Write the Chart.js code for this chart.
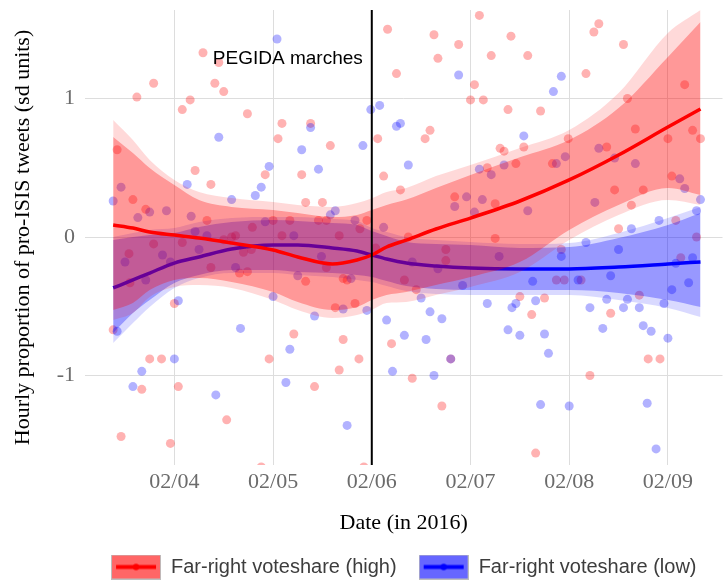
<!DOCTYPE html>
<html>
<head>
<meta charset="utf-8">
<script src="https://cdn.jsdelivr.net/npm/chart.js@4.4.1/dist/chart.umd.min.js"></script>
<style>
  html, body { margin: 0; padding: 0; background: #fff; }
  canvas { display: block; }
</style>
</head>
<body>
<canvas id="pro-isis-chart" width="727" height="584"></canvas>
<script>
// Axis ticks (x in days since 02/03 00:00)
const tickDays = [1, 2, 3, 4, 5, 6];
const tickLabels = ["02/04", "02/05", "02/06", "02/07", "02/08", "02/09"];
const yTicks = [-1, 0, 1];
const xRange = [0.0946, 6.553];
const yRange = [-1.646, 1.639];

const seriesLabels = ["Far-right voteshare (high)", "Far-right voteshare (low)"];
const eventDay = 3;
const eventLabel = "PEGIDA marches";
const eventLabelY = 1.29;

// Hourly observations [day, value]
const redPoints = [
  [1.29, 1.33], [1.45, 1.26], [0.79, 1.11], [0.62, 1.01], [1.41, 1.11], [1.50, 1.05], [1.08, 0.92], [1.16, 0.99],
  [1.74, 0.89], [2.09, 0.82], [2.05, 0.71], [2.38, 0.82], [2.58, 0.66], [0.42, 0.63], [1.21, 0.48], [1.37, 0.38],
  [1.92, 0.45], [2.29, 0.45], [2.33, 0.25], [2.50, 0.25], [0.58, 0.27], [0.71, 0.20], [1.33, 0.12], [2.00, 0.12],
  [2.17, 0.12], [2.46, 0.12], [2.54, 0.12], [2.95, 0.12], [1.58, 0.00], [1.62, 0.01], [0.54, -0.12], [1.66, -0.26],
  [2.75, -0.31], [3.06, 0.71], [1.78, -0.09], [3.12, 0.44], [3.04, -0.08],
  [0.38, -0.67], [1.00, -0.48], [2.21, -0.70], [2.71, -0.74], [2.63, -0.51], [2.83, -0.48], [0.75, -0.88], [0.87, -0.88],
  [1.96, -0.88], [2.87, -0.88], [2.67, -0.96], [0.67, -1.10], [1.04, -1.08], [2.42, -1.08], [1.53, -1.32], [0.46, -1.44],
  [0.96, -1.49], [1.88, -1.66], [2.92, -1.66],
  [3.16, 1.50], [4.09, 1.60], [3.63, 1.46], [3.88, 1.39], [4.41, 1.45], [3.67, 1.29], [3.25, 1.18], [4.21, 1.31],
  [4.58, 1.31], [4.04, 1.10], [4.00, 0.99], [4.13, 0.99], [4.38, 0.92], [4.71, 0.91], [5.25, 1.48], [5.30, 1.54],
  [5.55, 1.39], [5.17, 1.18], [5.59, 1.00], [6.17, 1.10], [3.54, 0.71], [3.59, 0.77], [3.29, 0.34], [4.30, 0.64],
  [4.34, 0.62], [4.54, 0.65], [4.46, 0.53], [4.99, 0.71], [4.83, 0.53], [5.38, 0.65], [5.67, 0.78], [6.00, 0.71],
  [6.25, 0.77], [6.33, 0.71], [6.04, 0.44], [5.46, 0.34], [5.75, 0.34], [3.84, 0.29], [4.25, 0.24], [5.63, 0.23],
  [5.50, 0.06], [6.08, 0.12], [6.29, 0.00], [3.75, -0.09], [4.92, -0.09], [6.13, -0.15], [3.33, -0.31], [4.87, -0.31],
  [4.95, -0.31], [5.12, -0.31], [3.45, -0.38], [5.71, -0.42], [4.50, -0.43], [4.75, -0.44], [3.37, 0.00], [4.17, 0.50],
  [3.20, -0.77], [3.41, -1.02], [3.71, -1.22], [4.62, -0.56], [4.66, -1.56], [5.42, -0.55], [5.80, -0.88], [5.92, -0.88],
  [5.21, -1.00],
  [1.79, 0.07], [2.09, 0.01], [2.67, 0.01], [2.88, 0.06], [0.79, -0.05], [1.08, -0.04], [1.37, -0.22], [1.70, -0.11],
  [2.33, -0.32], [2.54, -0.22], [2.71, -0.30], [0.55, -0.33], [1.50, -0.02], [1.74, -0.25], [4.25, -0.01], [3.75, -0.17],
  [3.80, -0.88]
];

const bluePoints = [
  [2.04, 1.43], [1.45, 0.72], [2.38, 0.79], [2.29, 0.63], [2.46, 0.49], [1.96, 0.51], [1.88, 0.36], [1.82, 0.30],
  [1.13, 0.38], [1.58, 0.27], [2.63, 0.19], [2.58, 0.16], [2.91, 0.66], [2.99, 0.92], [0.38, 0.26],
  [1.04, -0.46], [2.00, -0.43], [2.42, -0.57], [2.71, -0.52], [2.95, -0.53], [1.67, -0.66], [2.17, -0.81], [1.00, -0.88],
  [0.67, -0.97], [0.58, -1.08], [2.13, -1.05], [1.42, -1.14], [2.75, -1.36], [0.42, -0.68], [3.15, -0.60],
  [3.88, 1.17], [4.84, 1.05], [4.92, 1.16], [3.08, 0.95], [3.25, 0.80], [3.29, 0.82], [3.37, 0.52], [4.54, 0.73],
  [4.09, 0.49], [4.34, 0.52], [5.46, 0.57], [5.91, 0.12], [5.63, 0.06], [5.17, -0.04], [6.33, 0.27], [6.29, 0.19],
  [3.92, -0.35], [4.63, -0.32], [5.09, -0.31], [5.42, -0.28], [6.04, -0.38], [6.21, -0.33], [6.25, -0.15], [6.08, -0.19],
  [5.50, -0.09], [4.92, -0.14], [4.29, -0.14], [3.50, -0.44],
  [3.59, -0.54], [3.71, -0.59], [3.33, -0.71], [3.55, -0.74], [3.21, -0.97], [3.63, -1.00], [4.17, -0.48], [4.42, -0.51],
  [4.46, -0.48], [4.38, -0.67], [4.50, -0.71], [4.66, -0.46], [4.75, -0.70], [4.79, -0.84], [4.71, -1.21], [5.00, -1.22],
  [5.21, -0.51], [5.38, -0.45], [5.34, -0.66], [5.55, -0.51], [5.59, -0.45], [5.71, -0.51], [5.75, -0.64], [5.83, -0.68],
  [5.96, -0.48], [6.00, -0.73], [5.79, -1.20], [5.88, -1.53],
  [0.46, 0.36], [0.63, 0.14], [0.75, 0.18], [0.92, 0.19], [1.17, 0.15], [1.21, 0.04], [1.92, 0.11], [2.21, 0.01],
  [2.83, 0.12], [0.50, -0.18], [0.88, -0.13], [1.25, -0.09], [1.62, -0.22], [2.25, -0.28], [2.49, -0.14], [2.79, -0.30],
  [0.71, -0.31], [0.96, -0.18], [1.33, 0.01], [3.12, 0.07], [3.84, 0.22], [3.96, 0.29], [4.12, 0.27], [4.04, 0.18],
  [4.21, 0.45], [4.87, 0.53], [4.96, 0.58], [5.30, 0.64], [5.67, 0.53], [5.26, 0.25], [4.58, 0.19], [6.12, 0.42],
  [6.17, 0.35], [3.67, -0.23], [3.41, -0.18], [3.80, -0.88]
];

// Smoothed fits and confidence bands
const fitDays = [0.38, 0.58, 0.75, 1.0, 1.25, 1.58, 2.0, 2.25, 2.6, 2.85, 3.0, 3.15, 3.35, 3.65, 4.0, 4.5, 5.0, 5.5, 6.0, 6.33];
const redFit = [0.087, 0.065, 0.036, 0.014, -0.007, -0.043, -0.094, -0.144, -0.195, -0.166, -0.130, -0.072, -0.022, 0.058, 0.137, 0.260, 0.412, 0.592, 0.794, 0.924];
const redInnerLo = [-0.527, -0.477, -0.383, -0.310, -0.296, -0.325, -0.397, -0.469, -0.527, -0.505, -0.455, -0.419, -0.397, -0.347, -0.289, -0.181, 0.051, 0.231, 0.354, 0.303];
const redInnerHi = [0.722, 0.606, 0.498, 0.375, 0.267, 0.217, 0.195, 0.173, 0.144, 0.159, 0.195, 0.231, 0.270, 0.354, 0.448, 0.575, 0.700, 0.931, 1.300, 1.552];
const redOuterLo = [-0.599, -0.549, -0.433, -0.361, -0.347, -0.368, -0.455, -0.527, -0.585, -0.563, -0.527, -0.477, -0.469, -0.419, -0.361, -0.253, -0.022, 0.159, 0.267, 0.231];
const redOuterHi = [0.845, 0.700, 0.556, 0.412, 0.325, 0.282, 0.253, 0.231, 0.217, 0.245, 0.280, 0.325, 0.354, 0.440, 0.520, 0.643, 0.773, 1.040, 1.473, 1.639];
const blueFit = [-0.368, -0.310, -0.260, -0.188, -0.144, -0.087, -0.058, -0.058, -0.079, -0.101, -0.130, -0.159, -0.188, -0.209, -0.224, -0.231, -0.231, -0.217, -0.195, -0.180];
const blueInnerLo = [-0.693, -0.549, -0.455, -0.332, -0.274, -0.238, -0.238, -0.253, -0.260, -0.274, -0.289, -0.318, -0.354, -0.375, -0.383, -0.383, -0.383, -0.404, -0.455, -0.505];
const blueInnerHi = [-0.022, 0.000, 0.014, 0.029, 0.072, 0.108, 0.123, 0.116, 0.101, 0.087, 0.043, 0.007, -0.036, -0.051, -0.058, -0.079, -0.072, -0.007, 0.087, 0.173];
const blueOuterLo = [-0.765, -0.621, -0.505, -0.368, -0.296, -0.260, -0.260, -0.274, -0.289, -0.310, -0.325, -0.354, -0.390, -0.412, -0.419, -0.419, -0.419, -0.455, -0.513, -0.578];
const blueOuterHi = [0.000, 0.029, 0.051, 0.065, 0.108, 0.137, 0.144, 0.144, 0.130, 0.116, 0.065, 0.036, 0.000, -0.022, -0.036, -0.051, -0.043, 0.029, 0.137, 0.217];

function curve(ys) {
  return fitDays.map((x, i) => ({ x: x, y: ys[i] }));
}

function scatter(list) {
  return list.map((p) => ({ x: p[0], y: p[1] }));
}

function bandEdge(ys, color, order, target) {
  return {
    data: curve(ys),
    borderWidth: 0,
    pointRadius: 0,
    backgroundColor: color,
    fill: target === undefined ? false : target,
    cubicInterpolationMode: "monotone",
    order: order,
  };
}

function fitLine(ys, color, order) {
  return {
    data: curve(ys),
    borderColor: color,
    borderWidth: 3.5,
    pointRadius: 0,
    fill: false,
    cubicInterpolationMode: "monotone",
    order: order,
  };
}

// Legend keys: shaded box with line and dot, like ggplot keys
function legendKey(fill, line) {
  const c = document.createElement("canvas");
  c.width = 50;
  c.height = 25;
  const k = c.getContext("2d");
  k.fillStyle = fill;
  k.fillRect(0, 0, 50, 25);
  k.strokeStyle = "#bdbdbd";
  k.lineWidth = 1;
  k.strokeRect(0.5, 0.5, 49, 24);
  k.strokeStyle = line;
  k.lineWidth = 4;
  k.beginPath();
  k.moveTo(5, 12.5);
  k.lineTo(45, 12.5);
  k.stroke();
  k.fillStyle = line;
  k.beginPath();
  k.arc(25, 12.5, 3.2, 0, Math.PI * 2);
  k.fill();
  return c;
}
const legendKeys = [legendKey("rgba(255,0,0,0.6)", "#ff0000"), legendKey("rgba(0,0,255,0.6)", "#0000ff")];

const eventLabelPlugin = {
  id: "eventLabel",
  afterDatasetsDraw(chart) {
    const c = chart.ctx;
    const x = chart.scales.x.getPixelForValue(eventDay) - 9;
    const y = chart.scales.y.getPixelForValue(eventLabelY);
    c.save();
    c.font = "19px 'Liberation Sans', Arial, sans-serif";
    c.fillStyle = "#000";
    c.textAlign = "right";
    c.textBaseline = "middle";
    c.fillText(eventLabel, x, y);
    c.restore();
  },
};

const ctx = document.getElementById("pro-isis-chart").getContext("2d");

new Chart(ctx, {
  type: "line",
  data: {
    datasets: [
      // 0, 1: observations
      { data: scatter(redPoints), showLine: false, pointRadius: 4.5, pointBorderWidth: 0, pointBackgroundColor: "rgba(255,0,0,0.3)", clip: 0, order: 20 },
      { data: scatter(bluePoints), showLine: false, pointRadius: 4.5, pointBorderWidth: 0, pointBackgroundColor: "rgba(0,0,255,0.3)", clip: 0, order: 19 },
      // 2-5: blue bands
      bandEdge(blueOuterHi, "rgba(0,0,255,0.15)", 18, 3),
      bandEdge(blueOuterLo, "transparent", 17),
      bandEdge(blueInnerHi, "rgba(0,0,255,0.30)", 16, 5),
      bandEdge(blueInnerLo, "transparent", 15),
      // 6: blue fit
      fitLine(blueFit, "#0000ff", 14),
      // 7-10: red bands
      bandEdge(redOuterHi, "rgba(255,0,0,0.15)", 13, 8),
      bandEdge(redOuterLo, "transparent", 12),
      bandEdge(redInnerHi, "rgba(255,0,0,0.30)", 11, 10),
      bandEdge(redInnerLo, "transparent", 10),
      // 11: red fit
      fitLine(redFit, "#ff0000", 9),
      // 12: event marker
      {
        data: [{ x: eventDay, y: yRange[0] }, { x: eventDay, y: yRange[1] }],
        borderColor: "#000",
        borderWidth: 2,
        pointRadius: 0,
        fill: false,
        order: 1,
      },
    ],
  },
  options: {
    responsive: false,
    animation: false,
    layout: { padding: { top: 10, left: 0, right: 0, bottom: -3 } },
    scales: {
      x: {
        type: "linear",
        min: xRange[0],
        max: xRange[1],
        afterBuildTicks: (scale) => {
          scale.ticks = tickDays.map((v) => ({ value: v }));
        },
        afterFit: (scale) => {
          scale.height = 70;
          scale.paddingLeft = 0;
          scale.paddingRight = 0;
        },
        ticks: {
          padding: 4,
          color: "#6b6b6b",
          font: { family: "'Liberation Serif', serif", size: 22 },
          callback: (v) => tickLabels[tickDays.indexOf(v)],
        },
        grid: { color: "#dddddd", lineWidth: 1, drawTicks: false },
        border: { display: false },
        title: {
          display: true,
          text: "Date (in 2016)",
          color: "#000",
          font: { family: "'Liberation Serif', serif", size: 22 },
          padding: { top: 0, bottom: -1 },
        },
      },
      y: {
        min: yRange[0],
        max: yRange[1],
        afterBuildTicks: (scale) => {
          scale.ticks = yTicks.map((v) => ({ value: v }));
        },
        afterFit: (scale) => {
          scale.width = 85;
          scale.paddingTop = 0;
          scale.paddingBottom = 0;
        },
        ticks: {
          padding: 10,
          color: "#6b6b6b",
          font: { family: "'Liberation Serif', serif", size: 22 },
          callback: (v) => String(v),
        },
        grid: { color: "#dddddd", lineWidth: 1, drawTicks: false },
        border: { display: false },
        title: {
          display: true,
          text: "Hourly proportion of pro-ISIS tweets (sd units)",
          color: "#000",
          font: { family: "'Liberation Serif', serif", size: 22 },
          padding: { top: 10, bottom: 0 },
        },
      },
    },
    plugins: {
      tooltip: { enabled: false },
      legend: {
        position: "bottom",
        fullSize: false,
        labels: {
          usePointStyle: true,
          pointStyleWidth: 50,
          padding: 22,
          color: "#3d3d3d",
          font: { family: "'Liberation Sans', Arial, sans-serif", size: 20 },
          generateLabels: () =>
            seriesLabels.map((text, i) => ({
              text: text,
              pointStyle: legendKeys[i],
              fontColor: "#3d3d3d",
              lineWidth: 0,
              hidden: false,
              datasetIndex: i,
            })),
        },
      },
    },
  },
  plugins: [eventLabelPlugin],
});
</script>
</body>
</html>
